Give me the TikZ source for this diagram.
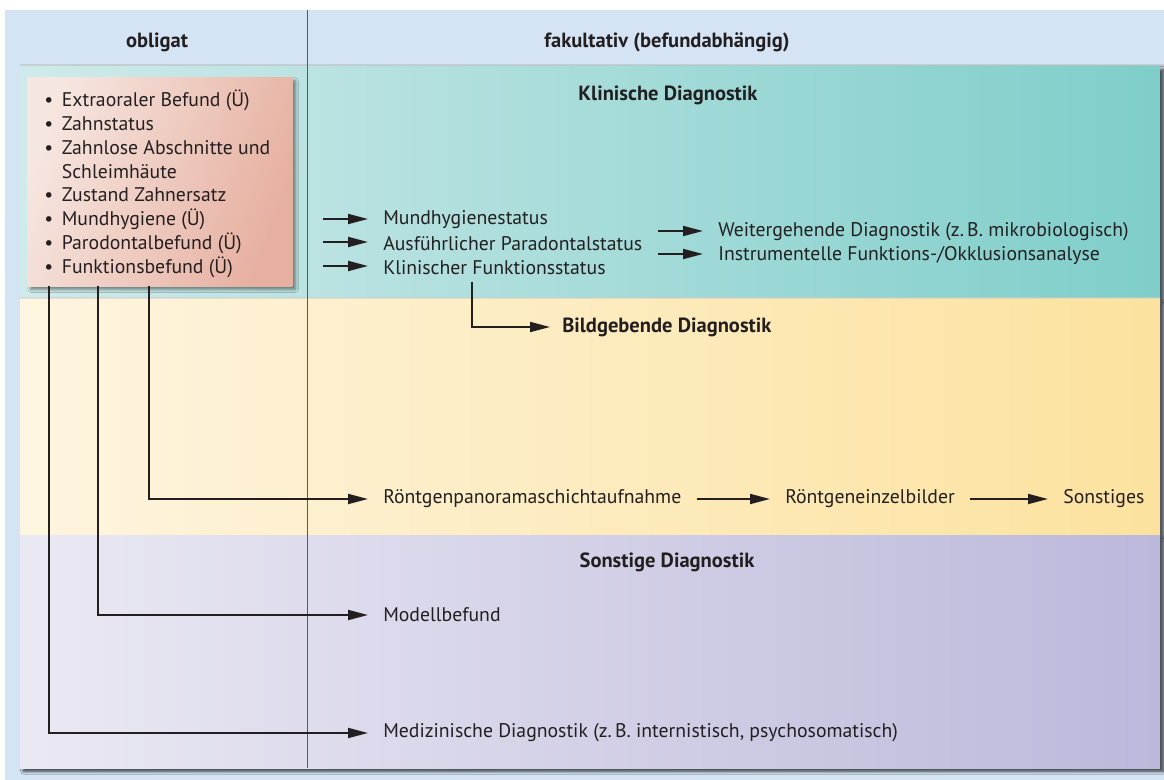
\documentclass[tikz,border=0pt]{standalone}
\usepackage{fontspec}
\setmainfont{PT Sans}
\usetikzlibrary{arrows.meta,shadows.blur}
\definecolor{hdrblue}{HTML}{D4E4F4}
\definecolor{ink}{HTML}{231F20}
\definecolor{tealA}{HTML}{CFEAEA}
\definecolor{tealB}{HTML}{7FCECA}
\definecolor{yelA}{HTML}{FEF5E0}
\definecolor{yelB}{HTML}{FCE29E}
\definecolor{lavA}{HTML}{EAE9F3}
\definecolor{lavB}{HTML}{BCB8DB}
\definecolor{redA}{HTML}{F6E6E0}
\definecolor{redB}{HTML}{E6AF9F}
\tikzstyle{txt} = [anchor=west, inner xsep=11.25pt, inner ysep=2pt, text=ink, font={\fontsize{14.8}{17}\selectfont}]
\tikzstyle{bold} = [text=ink, inner sep=0pt, font={\fontsize{15.4}{18}\selectfont\bfseries}]
\tikzstyle{arr} = [-{Triangle[length=15pt,width=7.5pt]}, line width=1.4pt, draw=ink]
\tikzstyle{shade} = [blur shadow={shadow xshift=2.5pt, shadow yshift=-2.5pt, shadow blur steps=6, shadow opacity=45}]
\tikzstyle{redbox} = [shade, anchor=north west, inner sep=0pt, minimum width=198.75pt, minimum height=156.75pt, left color=redA, right color=redB, shading angle=70]

\begin{document}
\begin{tikzpicture}[x=0.75pt,y=-0.75pt]
    \useasboundingbox (0,0) rectangle (1164,780);
    % background and bands
    \fill[hdrblue] (5,10) rectangle (1164,780);
    \fill[shade,white] (20,66) rectangle (1160,768);
    \shade[left color=tealA,right color=tealB] (20,66) rectangle (1160,299);
    \shade[left color=yelA,right color=yelB] (20,299) rectangle (1160,535);
    \shade[left color=lavA,right color=lavB] (20,535) rectangle (1160,768);
    \fill[black!25,opacity=0.6] (20,64) rectangle (1164,66.5);
    \fill[black!20,opacity=0.5] (20,297.5) rectangle (1160,299.5);
    \draw[black!65,line width=0.7pt] (307,10) -- (307,768);
    % headings
    \node[bold](obligat) at (157,42){obligat};
    \node[bold](fakult) at (667,42){fakultativ (befundabhängig)};
    \node[bold](klinisch) at (668,95){Klinische Diagnostik};
    \node[bold](sonstdiag) at (667,562){Sonstige Diagnostik};
    % obligate findings
    \node[redbox](box) at (27,77){};
    \node[anchor=north west, inner sep=0pt, text=ink, font={\fontsize{14.8}{17.8}\selectfont}](list) at (44,90){%
      \begin{tabular}{@{}l@{\hspace{6.5pt}}l@{}}
        • & Extraoraler Befund (Ü)\\
        • & Zahnstatus\\
        • & Zahnlose Abschnitte und\\
          & Schleimhäute\\
        • & Zustand Zahnersatz\\
        • & Mundhygiene (Ü)\\
        • & Parodontalbefund (Ü)\\
        • & Funktionsbefund (Ü)
      \end{tabular}};
    % clinical
    \node[txt](mhs) at (368,220){Mundhygienestatus};
    \node[txt](aps) at (368,243.5){Ausführlicher Paradontalstatus};
    \node[txt](kfs) at (368,267.5){Klinischer Funktionsstatus};
    \node[txt](weiter) at (703,232){Weitergehende Diagnostik (z.\,B. mikrobiologisch)};
    \node[txt](instr) at (703,255.5){Instrumentelle Funktions-/Okklusionsanalyse};
    \node[bold,anchor=west](bild) at (562,327){Bildgebende Diagnostik};
    % imaging
    \node[txt](rpa) at (368,499){Röntgenpanoramaschichtaufnahme};
    \node[txt](reb) at (770,499){Röntgeneinzelbilder};
    \node[txt](sonst) at (1048,499){Sonstiges};
    % other
    \node[txt](modell) at (368,615){Modellbefund};
    \node[txt](med) at (368,733){Medizinische Diagnostik (z.\,B. internistisch, psychosomatisch)};
    % arrow starts
    \coordinate (s1) at (323,219);
    \coordinate (s2) at (323,242);
    \coordinate (s3) at (323,266);
    \coordinate (s4) at (658,231);
    \coordinate (s5) at (658,254);
    \coordinate (b0) at (472,282);
    \coordinate (d1) at (149,286);
    \coordinate (d2) at (98,286);
    \coordinate (d3) at (49,286);
    \draw[arr](s1)--(s1 -| mhs.west);
    \draw[arr](s2)--(s2 -| aps.west);
    \draw[arr](s3)--(s3 -| kfs.west);
    \draw[arr](s4)--(s4 -| weiter.west);
    \draw[arr](s5)--(s5 -| instr.west);
    \draw[arr](b0)|-([xshift=-9pt]bild.west);
    \draw[arr](d1)|-(rpa.west);
    \draw[arr](rpa)--(reb);
    \draw[arr](reb)--(sonst);
    \draw[arr](d2)|-(modell.west);
    \draw[arr](d3)|-(med.west);
\end{tikzpicture}
\end{document}
